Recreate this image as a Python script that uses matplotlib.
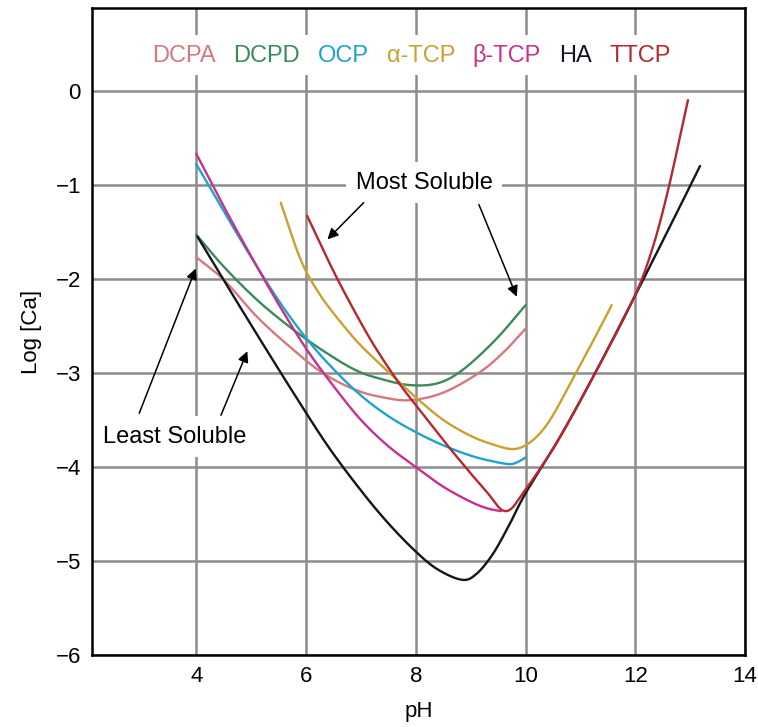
import numpy as np
import matplotlib.pyplot as plt
from matplotlib.lines import Line2D

plt.rcParams['font.family'] = ['Liberation Sans', 'DejaVu Sans']

# =========================
# data (pH, log[Ca])
# =========================
dcpa_x = [4.0, 4.5, 5.1, 5.7, 6.3, 6.9, 7.4, 7.9, 8.5, 9.15, 9.6, 10.0]
dcpa_y = [-1.77, -2.01, -2.40, -2.72, -3.0, -3.18, -3.26, -3.29, -3.21, -3.0, -2.78, -2.53]

dcpd_x = [4.0, 4.5, 5.1, 5.7, 6.3, 6.9, 7.4, 7.9, 8.4, 8.85, 9.45, 10.0]
dcpd_y = [-1.53, -1.87, -2.22, -2.51, -2.76, -2.97, -3.07, -3.13, -3.11, -2.97, -2.65, -2.28]

ocp_x = [4.0, 4.5, 5.0, 5.5, 6.0, 6.5, 7.0, 7.5, 8.0, 8.5, 9.0, 9.4, 9.7, 9.85, 10.0]
ocp_y = [-0.78, -1.28, -1.77, -2.23, -2.63, -2.96, -3.24, -3.46, -3.63, -3.77, -3.88, -3.94,
         -3.97, -3.95, -3.9]

atcp_x = [5.54, 5.7, 5.85, 6.0, 6.2, 6.4, 6.7, 7.0, 7.5, 8.0, 8.5, 9.0, 9.4, 9.75, 10.0,
          10.25, 10.5, 10.9, 11.25, 11.57]
atcp_y = [-1.19, -1.47, -1.72, -1.92, -2.12, -2.29, -2.51, -2.71, -2.99, -3.26, -3.5, -3.67,
          -3.76, -3.81, -3.77, -3.65, -3.45, -3.02, -2.64, -2.28]

btcp_x = [4.0, 4.5, 5.0, 5.5, 6.0, 6.5, 7.0, 7.5, 8.0, 8.5, 9.0, 9.3, 9.55]
btcp_y = [-0.67, -1.23, -1.76, -2.27, -2.74, -3.14, -3.5, -3.78, -4.0, -4.21, -4.37, -4.44, -4.47]

ha_x = [4.02, 4.6, 5.2, 5.8, 6.4, 7.0, 7.5, 8.0, 8.4, 8.84, 9.1, 9.4, 9.7, 10.0,
        10.6, 11.27, 11.96, 12.6, 13.18]
ha_y = [-1.55, -2.11, -2.68, -3.24, -3.78, -4.25, -4.6, -4.9, -5.09, -5.2, -5.14, -4.93,
        -4.62, -4.28, -3.71, -3.0, -2.22, -1.48, -0.80]

ttcp_x = [6.02, 6.4, 6.75, 7.2, 7.66, 8.05, 8.66, 9.27, 9.64, 10.0, 10.6, 11.27, 11.96,
          12.3, 12.6, 12.96]
ttcp_y = [-1.33, -1.8, -2.2, -2.67, -3.08, -3.38, -3.83, -4.25, -4.47, -4.24, -3.71, -3.0,
          -2.22, -1.7, -1.05, -0.10]

names = ["DCPA", "DCPD", "OCP", "α-TCP", "β-TCP", "HA", "TTCP"]
colors = ["#d7777e", "#3a8a5c", "#1fa2d0", "#c8a22c", "#c9308c", "#141420", "#b9272e"]
series = [(dcpa_x, dcpa_y), (dcpd_x, dcpd_y), (ocp_x, ocp_y), (atcp_x, atcp_y),
          (btcp_x, btcp_y), (ha_x, ha_y), (ttcp_x, ttcp_y)]


# draw a smooth line through the read points (Catmull-Rom, only for rendering)
def smooth(x, y, n=24):
    p = np.column_stack([x, y]).astype(float)
    p = np.vstack([2 * p[0] - p[1], p, 2 * p[-1] - p[-2]])
    out = []
    t = np.linspace(0, 1, n, endpoint=False)[:, None]
    for i in range(1, len(p) - 2):
        p0, p1, p2, p3 = p[i - 1], p[i], p[i + 1], p[i + 2]
        seg = 0.5 * ((2 * p1) + (-p0 + p2) * t + (2 * p0 - 5 * p1 + 4 * p2 - p3) * t ** 2
                     + (-p0 + 3 * p1 - 3 * p2 + p3) * t ** 3)
        out.append(seg)
    out.append(p[-2][None, :])
    out = np.vstack(out)
    return out[:, 0], out[:, 1]


# =========================
# plot
# =========================
fig = plt.figure(figsize=(7.58, 7.27), dpi=100)
ax = fig.add_axes([0.1214, 0.099, 0.8615, 0.890])

for (x, y), c in zip(series, colors):
    sx, sy = smooth(x, y)
    ax.plot(sx, sy, color=c, lw=1.7, solid_capstyle='round', zorder=3)

ax.set_xlim(2.1, 14)
ax.set_ylim(-6, 0.88)
ax.set_xticks([4, 6, 8, 10, 12, 14])
ax.set_yticks([0, -1, -2, -3, -4, -5, -6])
ax.set_yticklabels(["0", "−1", "−2", "−3", "−4", "−5", "−6"])
ax.grid(True, color="#8c8c8c", lw=1.8)
ax.set_axisbelow(True)
ax.tick_params(length=0, pad=8, labelsize=16)
for s in ax.spines.values():
    s.set_linewidth(1.8)
    s.set_color("black")
    s.set_zorder(4)

ax.set_xlabel("pH", fontsize=16, labelpad=10)
ax.set_ylabel("Log [Ca]", fontsize=16, labelpad=10)

# coloured text legend on a white strip
handles = [Line2D([], [], color=c) for c in colors]
leg = ax.legend(handles, names, ncol=7, loc="center", bbox_to_anchor=(0.489, 0.927),
                handlelength=0, handletextpad=0, columnspacing=0.75, labelcolor="linecolor",
                fontsize=17, frameon=True, facecolor="white", edgecolor="none",
                framealpha=1, fancybox=False, borderpad=0.35)
leg.set_zorder(5)

# annotations
box = dict(boxstyle="square,pad=0.4", fc="white", ec="none")
ax.text(8.15, -0.98, "Most Soluble", fontsize=17, ha="center", va="center", bbox=box, zorder=2)
ax.text(3.6, -3.68, "Least Soluble", fontsize=17, ha="center", va="center", bbox=box, zorder=2)

arrow = dict(arrowstyle="-|>", color="black", lw=1.1, mutation_scale=16, shrinkA=0, shrinkB=0)
ax.annotate("", xy=(6.39, -1.58), xytext=(7.05, -1.19), arrowprops=arrow, zorder=6)
ax.annotate("", xy=(9.84, -2.19), xytext=(9.15, -1.21), arrowprops=arrow, zorder=6)
ax.annotate("", xy=(3.99, -1.89), xytext=(2.96, -3.43), arrowprops=arrow, zorder=6)
ax.annotate("", xy=(4.93, -2.77), xytext=(4.45, -3.45), arrowprops=arrow, zorder=6)

plt.savefig("out.png", dpi=100)
